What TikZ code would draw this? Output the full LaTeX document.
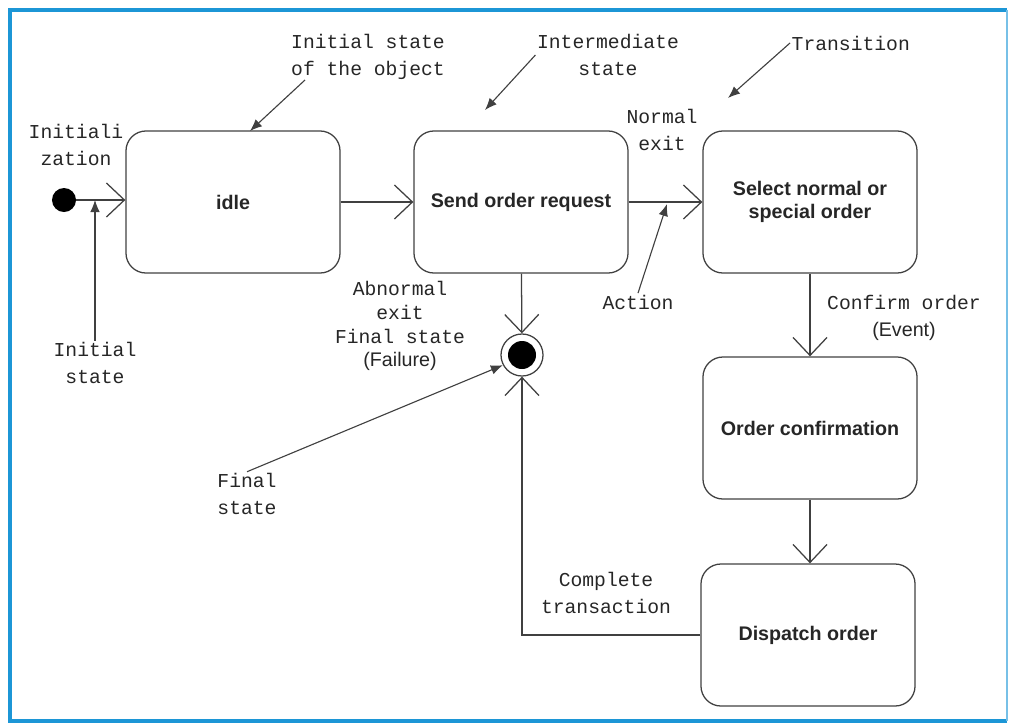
\documentclass[tikz,border=0pt]{standalone}
\usepackage{fontspec}
\setmainfont{Liberation Sans}
\setsansfont{Liberation Sans}
\setmonofont{Liberation Mono}
\usepackage{tikz}
\usetikzlibrary{arrows.meta,calc,positioning}
\definecolor{framebl}{RGB}{28,150,214}
\tikzset{
  stbox/.style={draw=black!75, line width=0.9pt, rounded corners=0.5cm, minimum width=5.35cm, minimum height=3.55cm, inner sep=0pt, align=center, text=black!85, font=\fontsize{14}{16.5}\selectfont\bfseries},
  initdot/.style={circle, fill=black, minimum size=0.6cm, inner sep=0pt},
  finaldot/.style={circle, draw=black!75, line width=0.9pt, minimum size=1.05cm, inner sep=0pt, path picture={\fill[black] (path picture bounding box.center) circle (0.35cm);}},
  trans/.style={draw=black!75, line width=0.9pt, -{Straight Barb[length=0.45cm, width=0.85cm]}},
  note/.style={draw=black!75, line width=0.8pt, -{Latex[length=0.3cm, width=0.24cm]}},
  cmt/.style={align=center, inner sep=1pt, text=black!85, font=\fontsize{14}{19}\selectfont\ttfamily},
}

\begin{document}
\begin{tikzpicture}[x=0.025cm, y=-0.025cm]
\useasboundingbox (0,0) rectangle (1010,724);
\draw[framebl, line width=3.5pt] (1007,721) -- (10,721) -- (10,10) -- (1007,10);
\draw[framebl!60, line width=1.5pt] (1007,10) -- (1007,721);

% states
\node[initdot] (init) at (64,200) {};
\node[stbox] (idle) at (233,202) {idle};
\node[stbox] (send) at (521,202) {Send order request};
\node[stbox] (sel) at (810,202) {Select normal or\\special order};
\node[stbox] (conf) at (810,428) {Order confirmation};
\node[stbox] (disp) at (808,635) {Dispatch order};
\node[finaldot] (fin) at (522,355) {};

% transitions
\draw[trans] (init) -- (init -| idle.west);
\draw[trans] (idle) -- (idle -| send.west);
\draw[trans] (send) -- (send -| sel.west);
\draw[trans] (sel) -- (conf);
\draw[trans] (conf) -- (conf |- disp.north);
\draw[trans] (send) -- (fin);
\draw[trans] (disp.west) -| (fin.south);

% labels
\node[cmt] (initlbl) at (76,145) {Initiali\\zation};
\node[cmt] (objlbl) at (368,57) {Initial state\\of the object};
\node[cmt] (intlbl) at (608,55) {Intermediate\\state};
\node[cmt, anchor=west] (trlbl) at (790,43) {Transition};
\node[cmt] (exitlbl) at (662,130) {Normal\\exit};
\node[cmt] (actlbl) at (638,302) {Action};
\node[cmt, font=\fontsize{14}{17}\selectfont\ttfamily] (abnlbl) at (400,326) {Abnormal\\exit\\Final state\\{\sffamily(Failure)}};
\node[cmt] (inilbl) at (95,363) {Initial\\state};
\node[cmt] (finlbl) at (247,494) {Final\\state};
\node[cmt] (cnflbl) at (904,318) {Confirm order\\{\sffamily(Event)}};
\node[cmt] (cmplbl) at (606,593) {Complete\\transaction};

% pointers
\coordinate (objfoot) at (305,80);
\coordinate (objtip) at (250,131);
\coordinate (inttip) at (485,110);
\coordinate (trtip) at (728,98);
\coordinate (acttip) at (667,204);
\draw[note] (objfoot) -- (objtip);
\draw[note] (intlbl.west) -- (inttip);
\draw[note] (trlbl.west) -- (trtip);
\draw[note] (actlbl.north) -- (acttip);
\draw[note] (inilbl.north) -- (inilbl.north |- init);
\draw[note] (finlbl.north) -- (fin.208);
\end{tikzpicture}
\end{document}
